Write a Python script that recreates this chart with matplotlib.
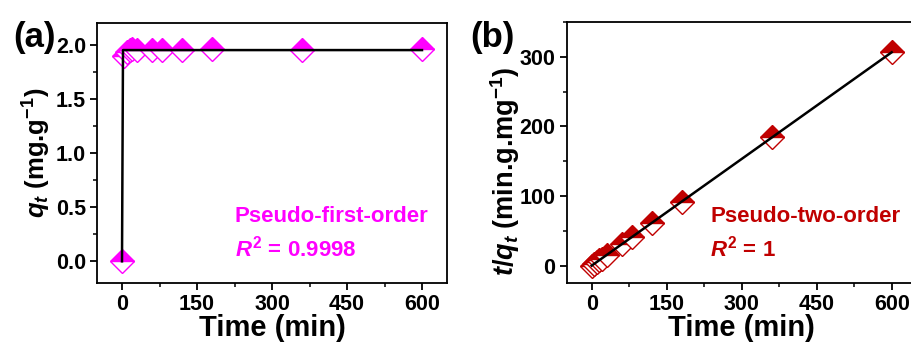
import matplotlib
matplotlib.use("Agg")
import matplotlib.pyplot as plt
from matplotlib.ticker import MultipleLocator

plt.rcParams['font.family'] = ['Liberation Sans', 'DejaVu Sans']
plt.rcParams['font.weight'] = 'bold'
plt.rcParams['mathtext.fontset'] = 'custom'
plt.rcParams['mathtext.rm'] = 'Liberation Sans:bold'
plt.rcParams['mathtext.bf'] = 'Liberation Sans:bold'
plt.rcParams['mathtext.it'] = 'Liberation Sans:italic:bold'

# 데이터
time_a = [0, 5, 10, 15, 20, 30, 60, 80, 120, 180, 360, 600]
qt = [0.0, 1.90, 1.93, 1.95, 1.96, 1.95, 1.95, 1.95, 1.95, 1.96, 1.95, 1.96]
fit1_t = [0, 2, 600]
fit1_q = [0.0, 1.95, 1.95]

time_b = [0, 5, 10, 15, 20, 30, 60, 80, 120, 180, 360, 600]
t_over_q = [0.0, 2.6, 5.2, 7.7, 10.2, 15.4, 30.8, 41.0, 61.5, 92.0, 184.6, 306.5]
fit2_t = [0, 600]
fit2_y = [0.0, 306.5]

magenta = '#ff00ff'
darkred = '#c00000'

fig = plt.figure(figsize=(9.12, 3.42), dpi=100)
W, H = 912, 342
ax1 = fig.add_axes([97 / W, 1 - 283 / H, 350 / W, 260 / H])
ax2 = fig.add_axes([566.7 / W, 1 - 283 / H, 350 / W, 261 / H])


def style(ax):
    for s in ax.spines.values():
        s.set_linewidth(1.3)
    ax.tick_params(which='major', direction='out', length=5, width=1.3, labelsize=15.5, pad=3)
    ax.tick_params(which='minor', direction='out', length=3, width=1.1)
    for lab in ax.get_xticklabels() + ax.get_yticklabels():
        lab.set_fontweight('bold')
    ax.xaxis.set_major_locator(MultipleLocator(150))
    ax.xaxis.set_minor_locator(MultipleLocator(75))
    ax.set_xlabel('Time (min)', fontsize=21, fontweight='bold', labelpad=-1)


# (a) 유사 1차
ax1.plot(time_a, qt, 'D', ms=12, mfc=magenta, mec=magenta, mew=1.0,
         fillstyle='top', markerfacecoloralt='white', zorder=2)
ax1.plot(fit1_t, fit1_q, color='black', lw=1.8, zorder=3)
ax1.set_xlim(-50, 650)
ax1.set_ylim(-0.2, 2.2)
ax1.yaxis.set_major_locator(MultipleLocator(0.5))
ax1.yaxis.set_minor_locator(MultipleLocator(0.25))
ax1.xaxis.set_major_formatter(plt.FuncFormatter(lambda v, p: '%d' % v))
ax1.yaxis.set_major_formatter(plt.FuncFormatter(lambda v, p: '%.1f' % v))
style(ax1)
ax1.set_ylabel(r'$\mathit{q}_{\mathit{t}}$ (mg.g$^{\mathbf{-1}}$)', fontsize=18.5, fontweight='bold', labelpad=2)
ax1.text(0.394, 0.235, 'Pseudo-first-order', transform=ax1.transAxes, color=magenta,
         fontsize=16, fontweight='bold')
ax1.text(0.394, 0.10, r'$\mathit{R}^{2}$ = 0.9998', transform=ax1.transAxes, color=magenta,
         fontsize=16, fontweight='bold')
fig.text(13 / W, 1 - 47 / H, '(a)', fontsize=25, fontweight='bold')

# (b) 유사 2차
ax2.plot(time_b, t_over_q, 'D', ms=12, mfc=darkred, mec=darkred, mew=1.0,
         fillstyle='top', markerfacecoloralt='white', zorder=2)
ax2.plot(fit2_t, fit2_y, color='black', lw=1.8, zorder=3)
ax2.set_xlim(-50, 650)
ax2.set_ylim(-25, 350)
ax2.yaxis.set_major_locator(MultipleLocator(100))
ax2.yaxis.set_minor_locator(MultipleLocator(50))
style(ax2)
ax2.set_ylabel(r'$\mathit{t/q}_{\mathit{t}}$ (min.g.mg$^{\mathbf{-1}}$)', fontsize=19.5, fontweight='bold', labelpad=0)
ax2.yaxis.set_label_coords(-0.128, 0.43)
ax2.text(0.41, 0.235, 'Pseudo-two-order', transform=ax2.transAxes, color=darkred,
         fontsize=16, fontweight='bold')
ax2.text(0.41, 0.10, r'$\mathit{R}^{2}$ = 1', transform=ax2.transAxes, color=darkred,
         fontsize=16, fontweight='bold')
fig.text(470 / W, 1 - 47 / H, '(b)', fontsize=25, fontweight='bold')

fig.savefig('out.png', dpi=100)
